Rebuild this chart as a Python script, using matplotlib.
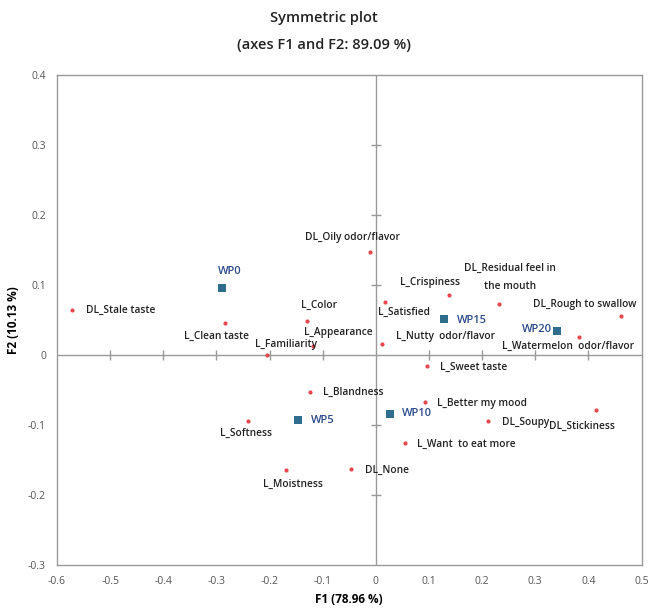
import numpy as np
import matplotlib
matplotlib.use('Agg')
import matplotlib.pyplot as plt

plt.rcParams['font.family'] = ['Open Sans', 'DejaVu Sans']

# attributes (red dots)
attr_names = ['DL_Stale taste', 'L_Clean taste', 'L_Familiarity', 'L_Color', 'L_Appearance',
              'DL_Oily odor/flavor', 'L_Satisfied', 'L_Crispiness', 'DL_Residual feel in\nthe mouth',
              'DL_Rough to swallow', 'L_Watermelon  odor/flavor', 'L_Nutty  odor/flavor',
              'L_Sweet taste', 'L_Blandness', 'L_Better my mood', 'DL_Soupy', 'DL_Stickiness',
              'L_Softness', 'L_Want  to eat more', 'DL_None', 'L_Moistness']
attr_f1 = [-0.572, -0.284, -0.204, -0.129, -0.119, -0.011, 0.018, 0.138, 0.232, 0.461, 0.382,
           0.012, 0.097, -0.123, 0.093, 0.211, 0.414, -0.241, 0.055, -0.046, -0.170]
attr_f2 = [0.064, 0.046, 0.000, 0.049, 0.013, 0.147, 0.076, 0.086, 0.073, 0.056, 0.026,
           0.016, -0.016, -0.053, -0.067, -0.094, -0.079, -0.094, -0.126, -0.163, -0.164]

# samples (blue squares)
wp_names = ['WP0', 'WP5', 'WP10', 'WP15', 'WP20']
wp_f1 = [-0.290, -0.147, 0.027, 0.128, 0.340]
wp_f2 = [0.096, -0.093, -0.084, 0.051, 0.034]

# label offsets in pixels (dx, dy, ha)
attr_off = [(14, 0, 'left'), (-8, -14, 'center'), (19, 10, 'center'), (12, 15, 'center'),
            (-9, 13, 'left'), (-17, 15, 'center'), (19, -11, 'center'), (-19, 12, 'center'),
            (11, 26, 'center'), (-36, 11, 'center'), (-11, -10, 'center'), (14, 7, 'left'),
            (13, -1, 'left'), (13, 0, 'left'), (12, -2, 'left'), (14, -2, 'left'),
            (-47, -16, 'left'), (-2, -13, 'center'), (12, -1, 'left'), (14, -1, 'left'),
            (7, -15, 'center')]
wp_off = [(8, 16, 'center'), (13, 0, 'left'), (12, 0, 'left'), (13, -1, 'left'), (-5, 2, 'right')]

fig = plt.figure(figsize=(6.48, 6.10), dpi=100)
ax = fig.add_axes([0.088, 0.074, 0.902, 0.803])

ax.set_xlim(-0.6, 0.5)
ax.set_ylim(-0.3, 0.4)
xt = np.round(np.arange(-0.6, 0.51, 0.1), 1)
yt = np.round(np.arange(-0.3, 0.41, 0.1), 1)
ax.set_xticks(xt)
ax.set_yticks(yt)
ax.set_xticklabels(['0' if v == 0 else f'{v:g}' for v in xt])
ax.set_yticklabels(['0' if v == 0 else f'{v:g}' for v in yt])
ax.tick_params(length=0, labelsize=7.5, labelcolor='#555555', pad=8)
for s in ax.spines.values():
    s.set_color('#999999')
    s.set_linewidth(1)

# zero lines with tick marks
ax.axhline(0, color='#999999', lw=1, zorder=1)
ax.axvline(0, color='#999999', lw=1, zorder=1)
xin = xt[(xt != 0) & (xt > -0.6) & (xt < 0.5)]
yin = yt[(yt != 0) & (yt > -0.3) & (yt < 0.4)]
ax.plot(xin, np.zeros_like(xin), ls='none', marker='|', ms=7, color='#999999', mew=1)
ax.plot(np.zeros_like(yin), yin, ls='none', marker='_', ms=7, color='#999999', mew=1)

ax.scatter(attr_f1, attr_f2, s=9, color='#e5484d', zorder=3, linewidths=0)
ax.scatter(wp_f1, wp_f2, s=28, marker='s', color='#2e6e8c', zorder=3, linewidths=0)

for n, x, y, (dx, dy, ha) in zip(attr_names, attr_f1, attr_f2, attr_off):
    ax.annotate(n, (x, y), xytext=(dx, dy), textcoords='offset pixels', ha=ha, va='center',
                fontsize=7.3, color='#222222', fontweight='semibold', linespacing=1.9)
for n, x, y, (dx, dy, ha) in zip(wp_names, wp_f1, wp_f2, wp_off):
    ax.annotate(n, (x, y), xytext=(dx, dy), textcoords='offset pixels', ha=ha, va='center',
                fontsize=8, color='#2b4a8a', fontweight='semibold')

ax.set_xlabel('F1 (78.96 %)', fontsize=8.5, fontweight='bold', labelpad=4)
ax.set_ylabel('F2 (10.13 %)', fontsize=8.5, fontweight='bold', labelpad=6)
fig.text(0.50, 0.970, 'Symmetric plot', ha='center', va='center', fontsize=10.5, fontweight='semibold', color='#222222')
fig.text(0.50, 0.927, '(axes F1 and F2: 89.09 %)', ha='center', va='center', fontsize=10.5, fontweight='semibold', color='#222222')

fig.savefig('out.png', dpi=100)
